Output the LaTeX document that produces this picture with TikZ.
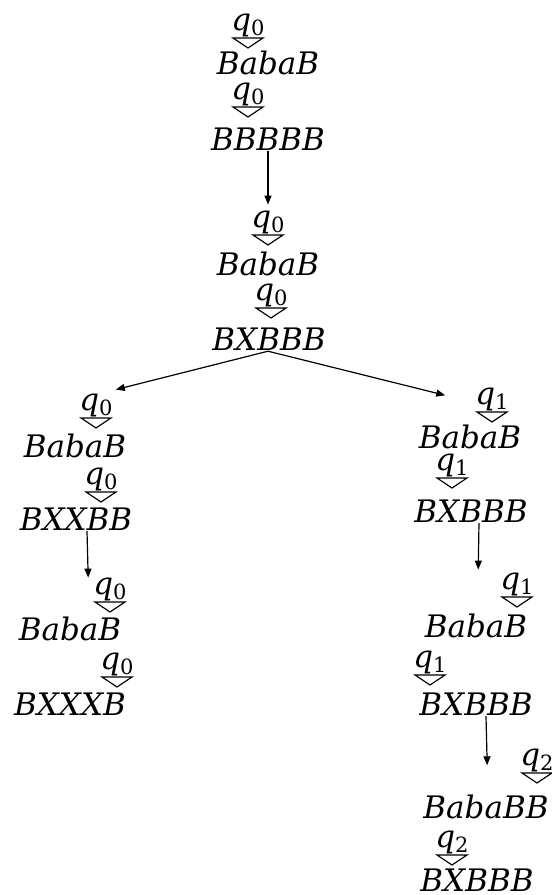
\documentclass[tikz,border=0pt]{standalone}
\usepackage{fontspec}
\newfontfamily\tapefont{DejaVu Serif}
\usetikzlibrary{arrows.meta,calc}
\newcommand\qs[1]{{\itshape q}\raisebox{-5pt}{\fontsize{21}{21}\selectfont #1}}
\newcommand\stmk[4]{%
  \node[st] (#1) at (#2,#3-1) {\qs{#4}};
  \draw[tri] ($(#1.south)+(-15,1)$) -- ($(#1.south)+(15,1)$) -- ($(#1.south)+(0,11)$) -- cycle;}
\begin{document}
\begin{tikzpicture}[x=1pt,y=-1pt,
  tape/.style={anchor=base,inner sep=1pt,font=\fontsize{31}{36}\selectfont\tapefont\itshape},
  st/.style={anchor=south,inner sep=0pt,font=\fontsize{31}{36}\selectfont\tapefont},
  arr/.style={-{Triangle[length=9pt,width=7pt]},line width=1.2pt},
  tri/.style={line width=1.2pt}]
\useasboundingbox (0,0) rectangle (552,895);
% top chain
\stmk{m1}{248}{38}{0}
\node[tape] (t1) at (268,74) {BabaB};
\stmk{m2}{248}{107}{0}
\node[tape] (t2) at (268,150) {BBBBB};
\stmk{m3}{268}{235}{0}
\node[tape] (t3) at (268,275) {BabaB};
\stmk{m4}{271}{308}{0}
\node[tape] (t4) at (269,350) {BXBBB};
% left branch
\stmk{m5}{96}{418}{0}
\node[tape] (t5) at (75,457) {BabaB};
\stmk{m6}{101}{492}{0}
\node[tape] (t6) at (76,530) {BXXBB};
\stmk{m7}{110}{602}{0}
\node[tape] (t7) at (70,640) {BabaB};
\stmk{m8}{117}{677}{0}
\node[tape] (t8) at (70,715) {BXXXB};
% right branch
\stmk{m9}{492}{412}{1}
\node[tape] (t9) at (470,448) {BabaB};
\stmk{m10}{452}{478}{1}
\node[tape] (t10) at (471,522) {BXBBB};
\stmk{m11}{517}{597}{1}
\node[tape] (t11) at (476,637) {BabaB};
\stmk{m12}{430}{675}{1}
\node[tape] (t12) at (476,715) {BXBBB};
\stmk{m13}{537}{773}{2}
\node[tape] (t13) at (486,818) {BabaBB};
\stmk{m14}{452}{855}{2}
\node[tape] (t14) at (477,891) {BXBBB};
% connectors
\draw[arr] (t2.south) -- ($(m3.north)+(0,-6)$);
\draw[arr] ($(t4.south)+(-1,0)$) -- ($(m5.north east)+(3,-4)$);
\draw[arr] ($(t4.south)+(-1,0)$) -- ($(m9.west)+(-30,-4)$);
\draw[arr] ($(t6.south)+(11,0)$) -- ($(m7.north west)+(-5,0)$);
\draw[arr] ($(t10.south)+(8,0)$) -- ($(m11.north west)+(-22,-3)$);
\draw[arr] ($(t12.south)+(10,0)$) -- ($(m13.west)+(-33,5)$);
\end{tikzpicture}
\end{document}
